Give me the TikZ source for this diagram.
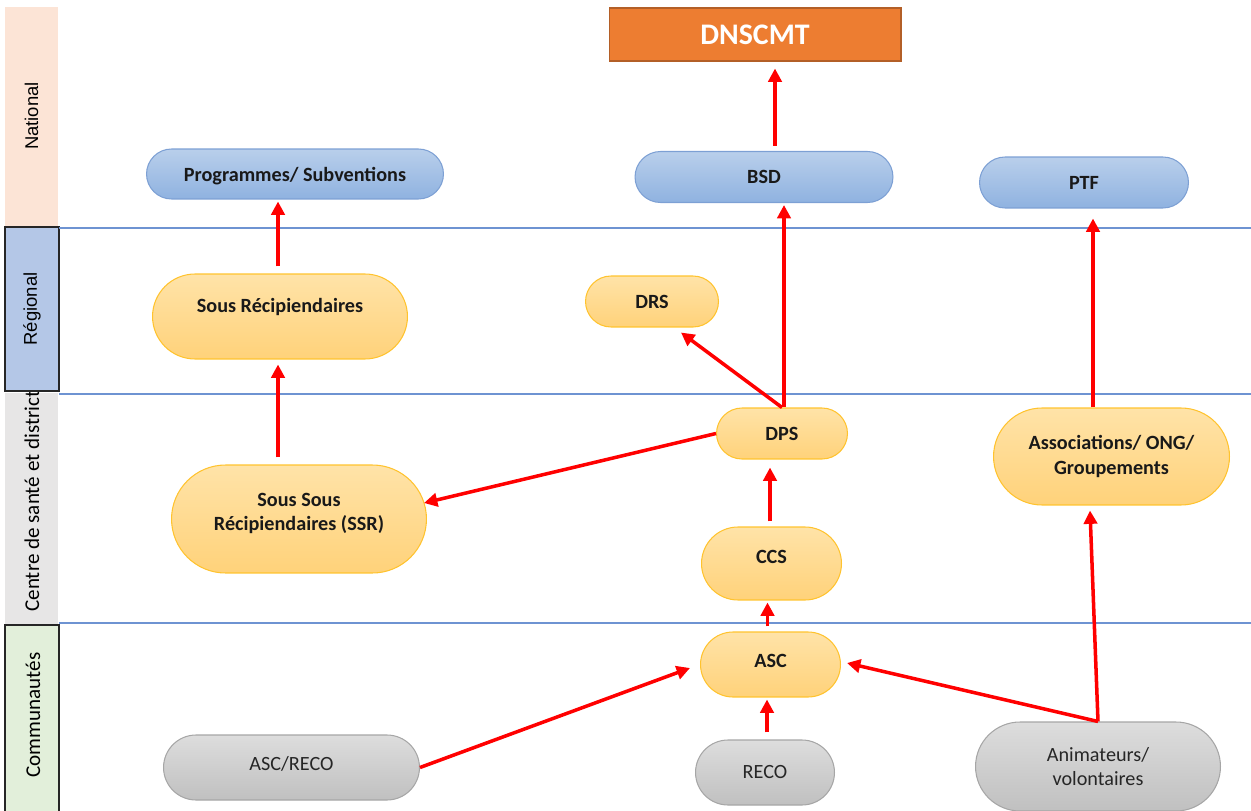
\documentclass[tikz,border=0pt]{standalone}
\usepackage{fontspec}
\setmainfont{Carlito}
\newfontfamily\arialf{Liberation Sans}
\usetikzlibrary{shapes.misc,arrows.meta,calc}
\definecolor{bandNat}{HTML}{FCE4D6}
\definecolor{bandReg}{HTML}{B4C7E7}
\definecolor{bandCen}{HTML}{E7E6E6}
\definecolor{bandCom}{HTML}{E2EFDA}
\definecolor{sepline}{HTML}{6E93D2}
\definecolor{bluetop}{HTML}{B9CFEB}
\definecolor{bluebot}{HTML}{8FB2E0}
\definecolor{blueedge}{HTML}{7DA0D4}
\definecolor{yeltop}{HTML}{FFE3A8}
\definecolor{yelbot}{HTML}{FFD27A}
\definecolor{yeledge}{HTML}{FFC32E}
\definecolor{graytop}{HTML}{DDDDDD}
\definecolor{graybot}{HTML}{C0C0C0}
\definecolor{grayedge}{HTML}{A6A6A6}
\definecolor{orangefill}{HTML}{ED7D31}
\definecolor{orangeedge}{HTML}{B35F27}
\definecolor{arrred}{HTML}{FF0000}
\begin{document}
\begin{tikzpicture}[x=0.02cm,y=-0.02cm,
  bandlabel/.style={rotate=90, inner sep=0pt, text=black},
  term/.style={rounded rectangle, line width=0.6pt, inner sep=2pt, align=center,
    text=black!90, font=\fontsize{11.5}{14}\selectfont\bfseries},
  bluebox/.style={term, draw=blueedge, top color=bluetop, bottom color=bluebot},
  yelbox/.style={term, draw=yeledge, top color=yeltop, bottom color=yelbot},
  graybox/.style={term, draw=grayedge, top color=graytop, bottom color=graybot,
    font=\fontsize{11.5}{14}\selectfont, text=black!85},
  topbox/.style={rectangle, draw=orangeedge, fill=orangefill, line width=0.6pt,
    text=white, font=\fontsize{17}{20}\selectfont\bfseries},
  sep/.style={draw=sepline, line width=0.9pt},
  arr/.style={draw=arrred, line width=2pt, -{Triangle[length=7.6pt,width=7.6pt]}}
]
\useasboundingbox (0,0) rectangle (1251,811);

% ---- bands ----
\fill[bandNat] (5,7) rectangle (58,226);
\node[bandlabel, font=\arialf\fontsize{10.5}{12}\selectfont] (lnat) at (31.5,116) {National};
\fill[bandCen] (5,393) rectangle (58,625);
\node[bandlabel, anchor=west, font=\fontsize{12}{14}\selectfont] (lcen) at (32,612) {Centre de santé et district};
\filldraw[fill=bandReg, draw=black!85, line width=0.7pt] (5,227) rectangle (59,391);
\node[bandlabel, font=\arialf\fontsize{10.5}{12}\selectfont] (lreg) at (32,309) {Régional};
\filldraw[fill=bandCom, draw=black!85, line width=0.7pt] (5,625) rectangle (59,813);
\node[bandlabel, font=\fontsize{12}{14}\selectfont] (lcom) at (33,715) {Communautés};

% ---- separators ----
\draw[sep] (59,228) -- (1251,228);
\draw[sep] (59,394) -- (1251,394);
\draw[sep] (59,623) -- (1251,623);

% ---- nodes ----
\node[topbox, minimum width=5.84cm, minimum height=1.06cm] (dns) at (755,34.5) {DNSCMT};
\node[bluebox, minimum width=6.08cm, minimum height=1.0cm, text depth=0pt] (prog) at (295,174) {Programmes/ Subventions};
\node[bluebox, minimum width=5.3cm, minimum height=1.02cm] (bsd) at (764,177) {BSD};
\node[bluebox, minimum width=4.32cm, minimum height=1.02cm] (ptf) at (1084,182.5) {PTF};
\node[yelbox, minimum width=5.24cm, minimum height=1.7cm, text depth=12.4pt] (sr) at (280,316.5) {Sous Récipiendaires};
\node[yelbox, minimum width=2.8cm, minimum height=1.02cm] (drs) at (652,301.5) {DRS};
\node[yelbox, minimum width=2.76cm, minimum height=1.02cm] (dps) at (782,433.5) {DPS};
\node[yelbox, minimum width=5.24cm, minimum height=2.16cm, text depth=8pt] (ssr) at (299,519) {Sous Sous\\Récipiendaires (SSR)};
\node[yelbox, minimum width=2.94cm, minimum height=1.46cm, text depth=8pt] (ccs) at (771.5,563.5) {CCS};
\node[yelbox, minimum width=4.86cm, minimum height=1.94cm] (assoc) at (1111.5,456.5) {Associations/ ONG/\\Groupements};
\node[yelbox, minimum width=2.94cm, minimum height=1.3cm, text depth=4.6pt] (asc) at (770.5,664.5) {ASC};
\node[graybox, minimum width=5.26cm, minimum height=1.3cm, text depth=4.5pt] (ascreco) at (291.5,767.5) {ASC/RECO};
\node[graybox, minimum width=2.92cm, minimum height=1.3cm] (reco) at (765,772.5) {RECO};
\node[graybox, minimum width=5.04cm, minimum height=1.78cm] (anim) at (1098,766.5) {Animateurs/\\volontaires};

% ---- arrows ----
\draw[arr] ($(sr.north)+(-2,-7)$) -- ($(prog.south)+(-17,2)$);
\draw[arr] ($(ssr.north)+(-21,-7)$) -- ($(sr.south)+(-2,5)$);
\draw[arr] ($(bsd.north)+(11,-5)$) -- ($(dns.south)+(20,7)$);
\draw[arr] ($(dps.north)+(2,0)$) -- ($(bsd.south)+(20,2)$);
\draw[arr] (dps.north) -- ($(drs.south)+(29,5)$);
\draw[arr] (dps.west) -- ($(ssr.east)+(-3,-16)$);
\draw[arr] ($(ccs.north)+(-1.5,-5)$) -- ($(dps.south)+(-12,8)$);
\draw[arr] ($(asc.north)+(-3,-5)$) -- ($(ccs.south)+(-4,2)$);
\draw[arr] ($(reco.north)+(2,-7)$) -- ($(asc.south)+(-3.5,2)$);
\draw[arr] (ascreco.east) -- ($(asc.west)+(-10,3.5)$);
\draw[arr] (anim.north) -- ($(asc.east)+(6,-1.5)$);
\draw[arr] (anim.north) -- ($(assoc.south)+(-21.5,5)$);
\draw[arr] ($(assoc.north)+(-18.5,0)$) -- ($(ptf.south)+(9,10)$);
\end{tikzpicture}
\end{document}
